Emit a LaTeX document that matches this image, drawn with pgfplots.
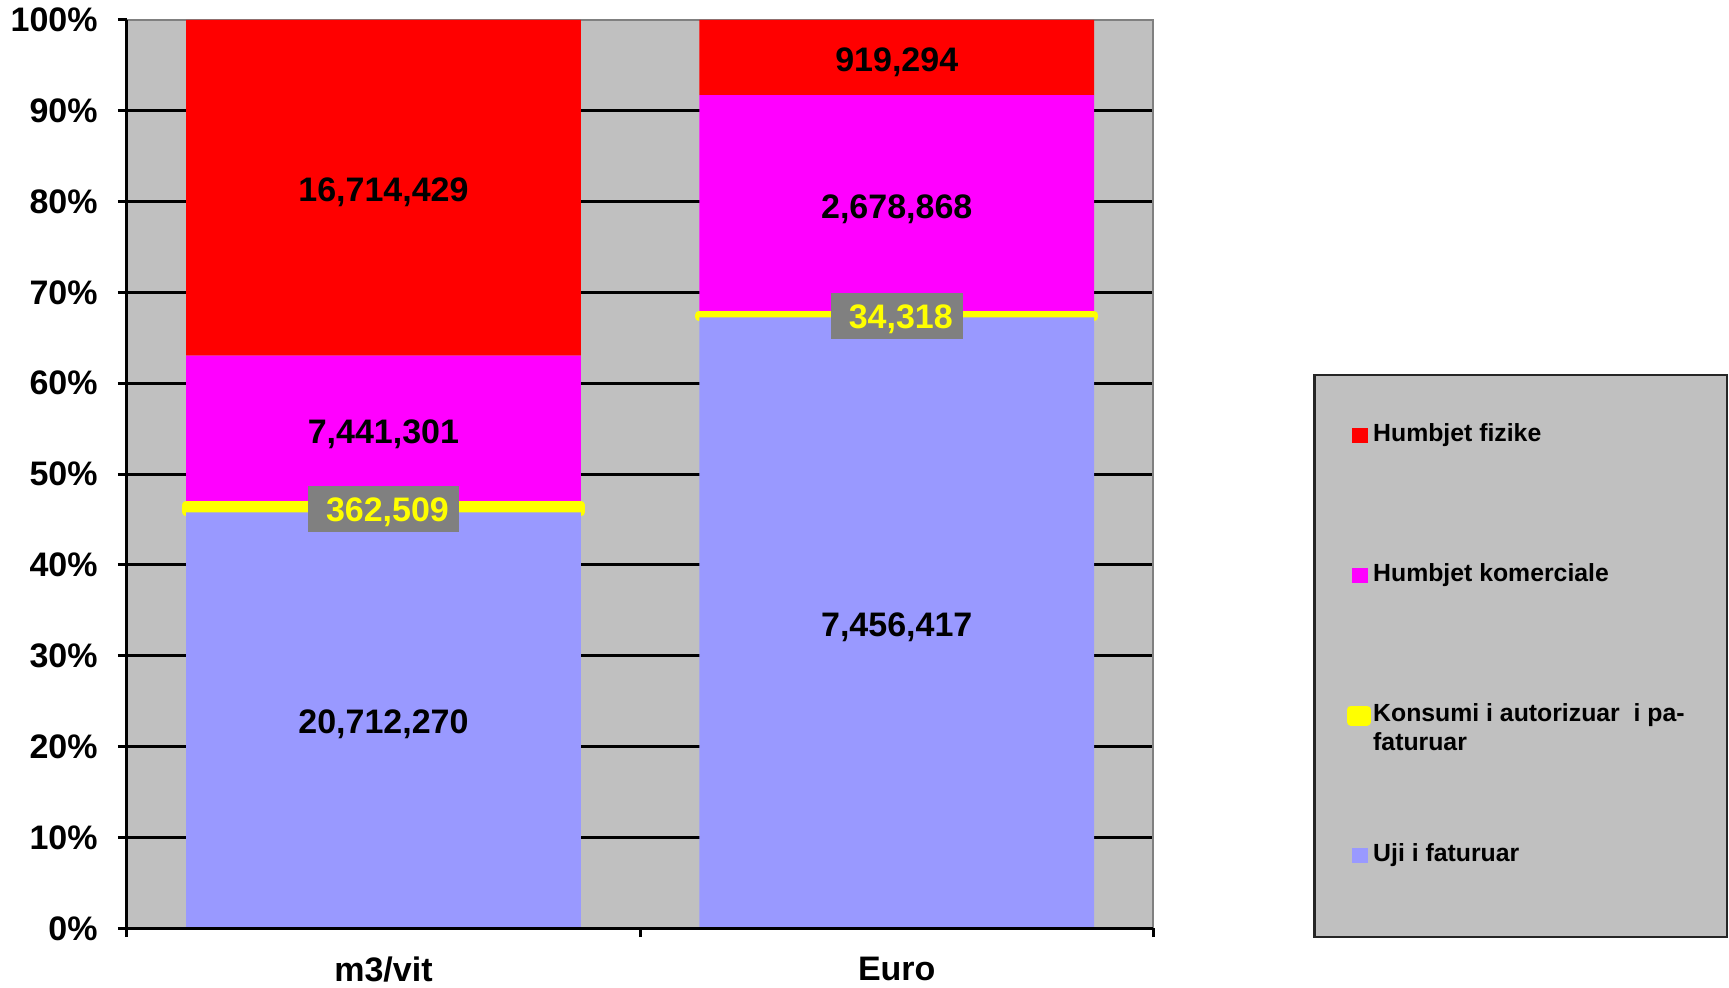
\documentclass[border=0pt]{standalone}
\usepackage{fontspec}
\setmainfont{Liberation Sans}
\usepackage{pgfplots}
\pgfplotsset{compat=1.18}
\usepackage{pgfplotstable}

\definecolor{plotbg}{HTML}{C0C0C0}
\definecolor{billed}{HTML}{9999FF}
\definecolor{lossc}{HTML}{FF00FF}
\definecolor{lossp}{HTML}{FF0000}
\definecolor{unbilled}{HTML}{FFFF00}
\definecolor{lblbox}{HTML}{808080}

\newcommand{\labfont}{\fontsize{17}{20}\selectfont\bfseries}
\newcommand{\legfont}{\fontsize{12.4}{14.3}\selectfont\bfseries}

% shares of each column total (%), x: 0 = m3/vit, 1 = Euro
\pgfplotstableread{
x billed unbilled komerc fizike
0 45.793 0.801 16.452 36.954
1 67.242 0.310 24.158 8.290
}\shares

% middle of each segment and the value printed there
\pgfplotstableread{
x y label
0 22.90 20,712,270
0 54.82 7,441,301
0 81.52 16,714,429
1 33.62 7,456,417
1 79.63 2,678,868
1 95.86 919,294
}\blacklabels

\pgfplotstableread{
x y label
0 46.19 362,509
1 67.40 34,318
}\yellowlabels

\pgfplotsset{
  common/.style={
    scale only axis, width=513.3pt, height=454.3pt,
    xmin=-0.5, xmax=1.5, ymin=0, ymax=100,
  },
  sqlegend/.style={legend image code/.code={
    \path (-2.8pt,0pt);
    \fill[##1] (0pt,-3.85pt) rectangle (7.7pt,3.85pt);}},
  ylegend/.style={legend image code/.code={
    \draw[##1] (-0.8pt,-3pt) rectangle (7.3pt,3pt);}},
}

\begin{document}
\begin{tikzpicture}
\begin{axis}[common, name=main,
  ybar stacked, bar width=197.4pt, clip=false,
  axis background/.style={fill=plotbg},
  axis line style={draw=lblbox, line width=1pt},
  xtick=\empty, ytick={10,20,...,90}, yticklabels={},
  major tick length=0pt,
  ymajorgrids, major grid style={black, line width=1.5pt},
  reverse legend, legend cell align=left,
  legend style={at={(1.188,0.556)}, anchor=north west,
    draw=none, fill=none, inner sep=0pt, row sep=58pt, column sep=1.1pt,
    font=\legfont, nodes={inner sep=0pt, text height=9pt, text depth=3pt}},
]
\draw[fill=plotbg, draw=black!85, line width=1.2pt]
  (axis description cs:1.157,0.609) rectangle (axis description cs:1.5588,-0.0097);
\addplot[fill=billed, draw=none, sqlegend] table[x=x,y=billed]{\shares};
\addlegendentry{Uji i faturuar}
\addplot[fill=unbilled, draw=unbilled, line width=4pt, line join=round, ylegend]
  table[x=x,y=unbilled]{\shares};
\addlegendentry{\vtop{\hbox{Konsumi i autorizuar\ \ i pa-}\hbox{faturuar}}}
\addplot[fill=lossc, draw=none, sqlegend] table[x=x,y=komerc]{\shares};
\addlegendentry{Humbjet komerciale}
\addplot[fill=lossp, draw=none, sqlegend] table[x=x,y=fizike]{\shares};
\addlegendentry{Humbjet fizike}
\end{axis}

\begin{axis}[common, clip=false,
  axis x line*=bottom, axis y line*=left,
  axis line style={-, black, line width=1.5pt},
  tick pos=left, tick align=outside, major tick length=4.4pt,
  major tick style={black, line width=1.5pt},
  ytick={0,10,...,100},
  yticklabels={0\%,10\%,20\%,30\%,40\%,50\%,60\%,70\%,80\%,90\%,100\%},
  yticklabel style={font=\labfont, inner sep=0pt, xshift=-10pt},
  xtick={-0.5,0.5,1.5}, xticklabels={},
  extra x ticks={0,1}, extra x tick labels={m3/vit,Euro},
  extra x tick style={major tick length=0pt,
    xticklabel style={font=\labfont, anchor=north, inner sep=0pt, yshift=-14pt}},
  point meta=explicit symbolic,
]
\addplot[draw=none, nodes near coords,
  every node near coord/.append style={anchor=center, font=\labfont, text=black,
    yshift=-2.2pt}]
  table[x=x,y=y,meta=label]{\blacklabels};
\addplot[draw=none, nodes near coords={\hspace*{4pt}\pgfplotspointmeta},
  every node near coord/.append style={anchor=center, font=\labfont, text=unbilled,
    fill=lblbox, inner xsep=5pt, inner ysep=4pt, text height=14pt, text depth=1pt}]
  table[x=x,y=y,meta=label]{\yellowlabels};
\end{axis}
\pgfresetboundingbox
\path (main.south west) ++(-63.4pt,-29.8pt) rectangle ++(864.5pt,494pt);
\end{tikzpicture}
\end{document}
